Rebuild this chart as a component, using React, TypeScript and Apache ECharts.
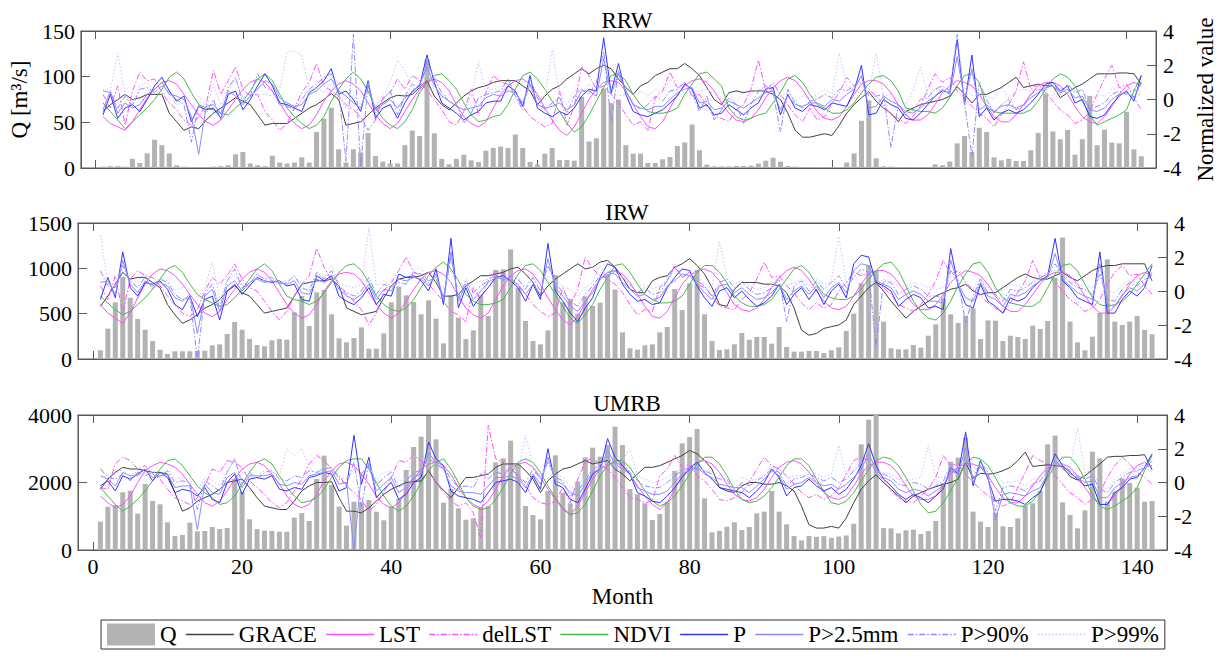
import { useEffect, useRef } from 'react';
import * as echarts from 'echarts';

const FONT = 'Liberation Serif';

const MONTHS: number[] = [];
for (let m = 1; m <= 142; m++) MONTHS.push(m);
const X_TICKS = [0, 20, 40, 60, 80, 100, 120, 140];

// ---------------- RRW ----------------
const Q_RRW = [
1.5,2,2,1.5,10,5.5,16,31,25,16,3,1.5,
1,1,1,1.5,2,3,15,17.5,5,3,2,13.5,
6,5,6,11.7,6,39.5,54,66,20.5,6,20.5,17,
38.4,13,7,5,5,25,41,35,119,38,10,4,
10,14.6,8.4,6.6,19,22,23.4,22,36.6,22,6.6,3.7,
15.7,22,8.8,8.8,8,78,29,32.6,87,71,75,25,
15.7,15.7,5.5,5.5,9.5,12,24,28,47.6,19.4,3.7,1.8,
1.8,1.8,2.2,2.2,2.6,4.8,8,11.3,7,2.2,1.5,1,
1,1,1,1,1,6,16,51.6,74,10.6,1.8,1.5,
1,1,1,1,1,4,3,7,27,35,17.6,44,
39.5,11.7,8.4,10,7.7,7.7,19.4,38.4,81.6,40,31.5,41.7,
14.6,31.5,79,25,42,27.8,27,61.5,20.5,12.8];

const GRACE_RRW = [
-0.7,-0.3,0.0,0.3,0.0,0.1,0.3,0.3,0.3,-0.8,-1.3,-1.8,
-1.6,-1.7,-1.2,-0.8,-0.5,-0.2,0.1,-0.1,-0.3,-0.9,-1.5,-1.4,
-1.4,-1.4,-1.1,-0.8,-0.5,-0.3,0.0,0.35,0.0,-1.5,-1.4,-1.3,
-0.9,-0.5,-0.2,0.1,0.25,0.2,0.3,0.7,1.1,0.2,-0.3,-0.6,
-0.2,0.2,0.5,0.7,0.8,1.0,1.1,1.1,1.1,0.8,0.5,-0.3,
0.2,0.6,0.8,1.2,1.5,1.8,1.5,1.8,2.0,1.8,1.2,0.7,
0.3,0.8,1.0,1.4,1.6,1.8,1.8,2.1,1.8,1.4,0.7,0.0,
-0.3,0.4,0.5,0.4,0.5,0.5,0.5,0.3,0.0,-0.8,-1.8,-2.2,
-2.2,-2.1,-2.0,-2.1,-1.5,-0.8,-0.3,0.1,0.45,-0.1,-0.5,-0.8,
-1.3,-0.7,-0.5,-0.3,-0.2,-0.1,0.0,0.2,0.75,0.3,-0.2,0.3,
0.3,0.5,0.7,1.0,1.3,0.7,0.8,0.9,0.8,0.8,0.1,0.4,
0.7,0.9,1.2,1.5,1.5,1.5,1.55,1.55,1.5,0.9];

const LST_RRW = [
-1.0,-1.4,-1.6,-1.8,-1.3,-0.6,0.1,0.6,1.0,1.1,0.9,0.3,
-0.3,-0.9,-1.3,-1.5,-1.2,-0.6,0.0,0.6,1.0,1.2,1.0,0.5,
-0.2,-0.9,-1.4,-1.7,-1.5,-0.9,-0.1,0.5,0.9,1.1,0.9,0.5,
-0.2,-0.9,-1.4,-1.7,-1.4,-0.7,0.0,0.6,1.0,1.2,1.0,0.5,
-0.3,-1.0,-1.4,-1.6,-1.3,-0.5,0.3,0.8,1.1,1.2,0.9,0.3,
-0.5,-1.2,-1.8,-2.1,-1.6,-0.8,0.0,0.6,1.0,1.1,1.0,0.5,
-0.3,-1.0,-1.6,-1.7,-1.3,-0.5,0.3,0.8,1.1,1.2,1.0,0.5,
-0.2,-0.8,-1.2,-1.3,-1.1,-0.6,0.1,0.7,1.1,1.3,1.1,0.6,
-0.1,-0.7,-1.1,-1.2,-1.0,-0.4,0.3,0.9,1.1,1.1,0.9,0.4,
-0.3,-0.9,-1.2,-1.2,-0.9,-0.3,0.4,0.8,1.1,1.0,0.8,0.3,
-0.4,-1.0,-1.3,-1.3,-0.9,-0.3,0.3,0.8,1.0,1.0,0.8,0.3,
-0.4,-1.0,-1.3,-1.4,-1.0,-0.4,0.3,0.8,1.0,0.8];

const DELLST_RRW = [
0.3,-0.5,0.8,-1.5,0.5,1.6,1.1,1.2,0.4,-0.2,-0.6,-1.2,
-1.5,-1.0,-0.3,1.7,0.3,1.1,1.9,0.6,0.2,0.3,-0.7,-1.2,
-1.8,-1.4,-0.5,0.4,1.0,2.1,0.8,0.5,0.2,-0.3,-0.6,-1.0,
-1.8,-1.2,0.1,0.4,1.2,0.6,1.4,1.1,0.5,0.0,-0.6,-1.3,
-1.5,-0.7,0.6,-0.8,0.4,1.4,1.0,0.9,0.2,-0.4,-1.0,-1.3,
-1.6,-1.4,0.5,-1.5,-0.4,1.9,1.4,0.6,0.8,0.3,-0.2,-0.9,
-1.5,-1.3,-1.8,0.1,0.5,1.6,0.7,1.0,0.2,0.3,-0.4,-1.0,
-1.1,-1.3,-0.6,-0.3,0.6,2.3,0.5,1.0,0.3,-0.3,-0.9,-1.3,
-0.5,-1.2,-1.0,-0.2,0.4,1.3,0.8,1.0,0.6,0.2,-0.3,-0.9,
-1.1,-1.4,-1.0,-0.4,0.6,1.5,1.0,1.3,0.5,0.1,-0.4,-0.8,
-1.1,-1.6,-0.9,-0.3,0.5,2.2,0.6,0.9,0.4,-0.1,-0.6,-0.9,
-1.4,-1.2,-0.7,0.3,1.2,2.0,0.7,0.9,0.1,-0.6];

const NDVI_RRW = [
-0.2,-0.7,-1.2,-1.7,-1.3,-0.9,-0.5,0.0,0.6,1.3,1.6,1.2,
0.4,-0.3,-0.5,-0.6,-0.8,-0.9,-0.5,-0.1,0.5,1.2,1.5,1.1,
0.3,-0.5,-1.0,-1.4,-1.7,-1.5,-1.0,-0.1,0.6,1.2,1.6,1.2,
0.5,-0.5,-1.1,-1.5,-1.7,-1.3,-0.6,0.4,1.0,1.4,1.5,1.1,
0.6,-0.2,-0.9,-1.3,-1.2,-1.0,-0.9,-0.3,0.6,1.4,1.6,1.2,
0.6,-0.1,-0.7,-1.4,-1.9,-1.6,-0.9,-0.1,0.7,1.4,1.5,1.1,
0.3,-0.3,-0.7,-0.8,-0.8,-0.7,-0.5,0.3,0.9,1.5,1.6,1.2,
0.8,-0.5,-1.0,-1.2,-1.1,-0.9,-0.8,-0.2,0.4,1.2,1.4,1.0,
0.3,-0.3,-0.5,-0.8,-0.8,-0.6,-0.2,0.4,0.9,1.3,1.4,1.1,
0.5,-0.5,-0.6,-0.7,-0.7,-0.8,-0.5,0.1,0.8,1.4,1.5,1.0,
-0.5,-0.7,-0.8,-0.8,-0.8,-0.8,-0.6,-0.1,0.6,1.2,1.5,1.3,
0.8,-0.1,-0.9,-1.5,-1.3,-1.1,-0.9,-0.6,0.5,1.4];

const P_RRW = [
-0.9,0.3,-1.1,-0.5,-0.3,-0.7,0.0,0.8,1.3,0.5,-0.1,0.2,
-1.3,-0.4,-0.6,-0.5,-1.1,0.3,0.5,-0.6,0.0,0.8,1.5,0.8,
-0.2,-0.3,-0.5,-0.7,0.4,0.7,1.1,1.8,0.3,0.5,0.0,-0.7,
1.1,-1.1,-0.5,-0.3,-1.1,-0.2,0.5,0.8,2.6,1.0,-0.2,-0.5,
-0.8,-1.2,-0.9,-0.7,-0.2,-0.1,-0.1,0.8,0.5,-0.4,1.4,-0.5,
-0.8,-1.0,-0.7,-0.9,-0.5,0.2,0.6,0.5,3.6,0.4,2.1,0.3,
-0.7,-0.9,-1.0,-0.8,-0.6,-0.2,0.2,0.9,0.6,-0.5,-0.3,-0.9,
-0.8,-0.3,-0.6,-0.9,-0.5,-0.2,0.6,0.7,-0.9,0.3,-0.5,-0.7,
-0.3,-0.4,-0.6,-0.2,-0.3,-0.4,0.5,2.0,-0.9,-0.8,0.0,-0.3,
-0.5,-1.1,-1.2,-0.8,-0.3,0.2,0.5,0.4,3.5,-0.3,2.6,-1.0,
-0.5,-1.2,-0.8,-0.6,-0.8,-0.6,-0.2,0.3,0.9,1.0,0.5,0.8,
-0.2,0.0,-1.0,-1.1,-0.9,-0.3,0.2,0.5,-0.1,1.4];

const P25_RRW = [
-0.6,0.5,-0.8,-0.2,-0.5,-0.3,0.3,0.6,1.0,0.3,0.2,0.0,
-1.0,-3.2,-0.4,-0.3,-0.8,0.5,0.2,-0.3,0.2,0.6,1.1,0.9,
0.1,-0.2,-0.4,-0.3,0.3,0.5,0.9,1.2,0.5,0.2,-0.2,-0.5,
0.8,-0.6,-0.3,0.0,-0.5,0.1,0.4,0.9,1.9,0.8,0.2,-0.1,
-0.4,-0.6,-0.5,-0.4,0.1,0.3,0.2,0.5,0.4,-0.2,0.9,-0.3,
-0.5,-0.4,-0.2,-0.6,-0.3,0.5,0.5,0.2,2.4,0.3,1.5,0.5,
-0.3,-0.5,-0.6,-0.4,-0.4,0.0,0.4,0.6,0.7,-0.2,-0.1,-0.6,
-0.5,-0.1,-0.3,-0.5,-0.2,0.1,0.4,0.5,-0.6,0.2,-0.3,-0.4,
-0.2,-0.2,-0.4,0.0,-0.1,0.3,0.6,1.4,-0.5,-0.4,0.2,-0.1,
-0.3,-0.7,-0.8,-0.5,-0.1,0.2,0.6,0.3,2.5,0.0,1.8,-0.6,
-0.3,-0.7,-0.4,-0.3,-0.5,-0.3,0.1,0.4,0.7,0.8,0.4,0.6,
0.1,0.2,-0.6,-0.7,-0.5,0.0,0.3,0.4,0.1,1.0];

const P90_RRW = [
0.5,0.4,-0.5,0.2,-0.4,0.6,0.7,0.4,0.8,0.4,0.0,-0.3,
-2.5,-0.3,-0.8,0.0,-1.2,0.7,1.3,-0.2,0.2,1.5,0.7,0.5,
-0.3,-0.4,-0.6,0.0,0.6,0.9,1.3,1.5,0.5,-3.6,3.8,-3.9,
1.0,-0.8,0.0,0.5,-0.9,0.2,0.9,0.6,2.2,1.2,0.4,-0.1,
-0.3,-1.4,-0.8,0.1,0.3,0.4,0.5,1.2,0.2,-0.6,1.2,0.1,
-0.6,-0.2,0.1,-0.8,0.2,0.6,0.3,1.0,2.8,-1.3,1.7,0.4,
-0.2,-0.6,-0.3,0.2,-0.1,0.5,0.6,1.0,0.4,-0.7,0.2,-1.2,
-0.6,0.1,-0.3,-1.4,-0.3,0.5,0.8,0.4,-1.9,0.6,-0.2,-0.5,
-0.1,0.0,0.3,0.1,0.6,0.5,0.8,1.3,0.2,0.2,0.3,-2.8,
-0.3,-0.9,-0.6,0.0,0.1,0.6,0.8,0.5,3.8,-0.2,-3.3,1.0,
0.0,-0.8,-0.3,0.0,-0.6,-0.4,0.3,0.6,0.5,1.0,0.3,0.9,
0.4,0.6,-0.6,-0.4,-0.2,0.3,0.5,0.3,0.6,0.2];

const P99_RRW = [
0.6,0.5,2.7,0.3,-0.3,0.8,1.0,0.5,0.3,0.4,-0.3,-0.2,
-0.5,0.2,-0.6,0.9,-0.3,0.5,1.2,0.1,0.4,0.3,0.3,0.2,
0.6,2.8,2.8,2.6,0.5,0.7,0.4,1.0,0.3,-0.5,0.3,-0.3,
0.4,-0.4,0.2,1.0,2.3,1.7,0.7,0.3,1.6,0.5,0.1,0.3,
0.1,-0.6,0.2,2.2,0.4,0.6,0.8,0.6,0.2,0.0,0.8,0.0,
0.2,2.9,0.3,-0.3,0.5,0.5,0.9,0.5,1.0,0.6,0.2,0.3,
0.0,0.5,0.2,0.6,0.4,1.2,0.7,0.4,0.2,0.5,0.6,0.3,
0.0,0.4,-0.2,0.5,0.3,0.6,0.5,0.9,0.2,0.4,-0.1,0.2,
0.1,0.3,0.6,0.3,2.7,0.8,0.6,0.3,0.4,2.7,0.2,0.3,
0.0,-0.3,0.5,1.9,0.3,0.6,0.5,0.4,0.4,0.7,0.2,0.3,
0.2,0.0,0.7,0.1,0.5,0.6,0.5,0.6,0.3,0.2,0.7,0.4,
0.6,0.5,0.0,0.3,0.2,0.6,0.7,0.5,0.8,0.4];

// ---------------- IRW ----------------
const Q_IRW = [
96,335,625,904,676,441,323,198,103,55,85,85,
85,92,92,150,162,276,408,323,220,154,140,206,
220,213,515,695,364,735,761,493,228,184,232,349,
114,114,283,625,798,702,629,493,647,445,173,700,
456,220,316,702,474,981,989,1209,787,419,198,162,
316,926,625,662,500,691,584,621,937,765,294,118,
103,151,162,294,353,772,540,834,981,493,198,99,
107,162,287,213,243,243,169,353,132,81,81,88,
88,66,96,129,309,500,834,1037,970,412,118,107,
107,154,125,257,382,669,493,397,478,559,220,426,
423,198,257,243,220,368,331,419,897,1338,412,184,
96,246,507,1099,412,375,412,474,320,272];

const GRACE_IRW = [
-0.9,-0.3,0.4,1.1,0.7,0.8,0.8,0.5,0.2,-0.8,-1.4,-1.9,
-1.7,-1.4,-1.0,-0.8,-0.5,0.0,0.3,-0.1,-0.3,-0.8,-1.3,-1.2,
-1.1,-1.0,-0.3,0.4,0.5,0.6,0.6,0.7,0.3,-1.0,-1.2,-1.4,
-1.3,-1.2,-0.4,0.3,0.7,0.8,0.8,0.9,1.1,0.5,-0.3,-0.3,
-0.2,0.3,0.6,0.9,0.9,1.0,1.1,1.3,1.4,1.0,0.5,-0.3,
0.3,0.7,1.0,1.3,1.6,1.3,1.4,1.7,1.8,1.4,0.8,0.1,
-0.1,-0.1,0.6,0.8,0.9,1.4,1.6,1.9,1.5,1.0,0.2,-0.8,
-0.9,0.1,0.5,0.5,0.5,0.4,0.4,0.3,-0.1,-1.0,-2.3,-2.6,
-2.5,-2.2,-2.1,-2.0,-1.7,-0.8,-0.3,0.2,0.5,0.0,-0.6,-1.1,
-1.6,-1.2,-0.9,-0.6,-0.3,-0.1,0.1,0.2,0.4,0.0,-0.2,-0.1,
-0.1,0.2,0.5,0.8,1.0,0.8,0.7,0.7,0.9,1.1,0.8,0.6,
0.9,1.2,1.4,1.5,1.5,1.6,1.6,1.6,1.6,0.6];

const LST_IRW = [
-0.8,-1.3,-1.6,-1.9,-1.3,-0.4,0.4,1.0,1.3,1.2,0.9,0.4,
-0.2,-0.8,-1.3,-1.5,-1.2,-0.5,0.1,0.7,1.1,1.3,1.1,0.6,
-0.1,-0.8,-1.3,-1.6,-1.4,-0.8,0.0,0.6,1.0,1.1,1.0,0.6,
-0.1,-0.8,-1.3,-1.6,-1.3,-0.6,0.1,0.7,1.1,1.2,1.0,0.5,
-0.3,-1.0,-1.4,-1.6,-1.3,-0.5,0.3,0.9,1.2,1.3,1.0,0.4,
-0.4,-1.1,-1.7,-2.0,-1.5,-0.7,0.1,0.7,1.1,1.2,1.0,0.5,
-0.2,-0.9,-1.5,-1.6,-1.2,-0.4,0.4,0.9,1.2,1.3,1.1,0.6,
-0.1,-0.8,-1.1,-1.2,-1.0,-0.5,0.2,0.8,1.2,1.4,1.2,0.7,
0.0,-0.6,-1.0,-1.1,-0.9,-0.3,0.4,1.0,1.2,1.2,1.0,0.5,
-0.2,-0.8,-1.1,-1.1,-0.8,-0.2,0.5,0.9,1.2,1.1,0.9,0.4,
-0.3,-0.9,-1.2,-1.2,-0.8,-0.2,0.4,0.9,1.1,1.1,0.9,0.4,
-0.3,-0.9,-1.3,-1.3,-0.9,-0.3,0.4,0.9,1.1,0.9];

const DELLST_IRW = [
0.3,-0.5,0.9,-1.3,0.7,1.2,0.9,0.8,0.3,-0.3,-0.8,-1.3,
-1.5,-1.1,0.0,0.8,0.4,0.9,1.6,0.7,0.2,0.0,-0.6,-1.2,
-1.7,-1.2,-0.3,0.4,0.9,2.5,1.4,0.6,0.3,-0.2,-0.6,-1.1,
-2.0,-1.3,0.0,0.5,1.2,2.0,1.1,0.9,0.4,-0.1,-0.6,-1.2,
-1.4,-1.8,0.2,-0.5,0.6,1.2,1.0,0.8,0.3,-0.2,-0.8,-1.2,
-1.5,-1.3,0.2,-0.8,0.1,2.0,1.3,0.9,0.7,0.4,-0.1,-0.8,
-1.4,-1.1,-1.2,0.2,0.6,1.5,0.8,1.1,0.4,0.2,-0.3,-0.9,
-1.0,-1.1,-0.5,-0.1,0.7,1.7,0.8,0.9,0.3,-0.1,-0.7,-1.1,
-0.7,-1.0,-0.8,0.0,0.5,1.1,0.9,1.0,0.6,0.2,-0.2,-0.8,
-1.0,-1.2,-0.8,-0.2,0.6,1.8,1.0,1.2,0.5,0.1,-0.3,-0.7,
-1.0,-1.3,-0.7,-0.1,0.6,1.8,0.8,1.0,0.5,0.0,-0.5,-0.8,
-1.2,-1.0,-0.5,0.4,1.1,1.5,0.9,1.0,0.3,-0.2];

const NDVI_IRW = [
-0.3,-0.7,-1.1,-1.4,-1.2,-0.8,-0.4,0.1,0.7,1.3,1.5,1.1,
0.4,-0.2,-0.5,-0.7,-0.9,-0.8,-0.4,0.1,0.7,1.3,1.6,1.2,
0.4,-0.3,-0.5,-0.6,-0.8,-0.6,-0.1,0.5,1.1,1.5,1.6,1.2,
0.5,-0.3,-0.8,-1.1,-1.2,-1.0,-0.5,0.2,0.9,1.4,1.7,1.3,
0.6,-0.2,-0.6,-0.8,-0.8,-0.7,-0.5,0.2,1.0,1.5,1.6,1.2,
0.5,-0.2,-0.9,-1.6,-1.9,-1.4,-0.8,0.1,0.8,1.5,1.6,1.1,
0.4,-0.2,-0.5,-0.7,-0.7,-0.6,-0.3,0.4,1.1,1.5,1.5,1.1,
0.5,-0.3,-0.7,-0.9,-0.9,-0.8,-0.5,0.1,0.7,1.3,1.5,1.1,
0.4,-0.2,-0.4,-0.5,-0.5,-0.3,0.1,0.7,1.2,1.6,1.7,1.2,
0.3,-0.6,-1.2,-1.6,-1.7,-1.3,-0.6,0.3,1.0,1.6,1.7,1.1,
0.2,-0.4,-0.7,-0.8,-0.9,-0.9,-0.6,0.2,1.0,1.5,1.6,1.2,
0.4,-0.4,-0.8,-0.9,-0.8,-0.6,-0.2,0.4,1.0,1.6];

const P_IRW = [
-0.5,0.8,-0.4,2.3,0.2,-0.3,0.5,0.4,0.6,0.1,-0.8,-1.1,
-0.3,-1.5,-0.5,-0.3,-1.7,0.0,0.4,-0.2,0.3,0.8,0.6,0.5,
0.6,0.3,0.4,-0.5,-0.6,0.9,0.6,0.9,-0.3,-0.6,-0.8,-0.4,
0.2,-0.8,-0.2,-0.3,1.0,0.8,0.9,0.6,0.0,1.3,-0.8,3.1,
-1.0,0.2,-0.9,-0.3,0.2,0.8,0.9,0.6,0.2,-0.6,0.4,-0.5,
2.8,0.0,-0.6,-1.3,-1.8,-1.0,-0.4,0.8,1.6,1.4,0.4,-0.2,
-0.6,-0.5,-0.8,-0.7,0.2,0.8,1.3,1.2,0.3,-0.4,-0.9,0.0,
0.2,-0.4,0.0,-0.5,-0.9,-0.7,-0.3,0.4,-0.8,-0.2,0.2,-0.5,
0.1,-0.8,0.0,0.4,-0.4,1.6,2.1,2.0,0.5,0.3,0.0,-0.9,
-0.5,-0.2,-0.4,-1.0,-0.9,-1.1,2.5,0.3,-0.8,-1.0,0.4,-0.6,
-0.9,-1.3,-0.4,-0.6,-0.4,0.2,0.6,0.9,3.1,0.6,0.2,-0.4,
-0.6,-0.8,2.3,-1.3,-1.3,-0.5,0.0,-0.3,0.2,1.5];

const P25_IRW = [
0.5,0.6,-0.2,1.8,0.4,-0.1,0.6,0.3,0.5,0.3,-0.4,-0.6,
-0.2,-2.5,-0.3,0.1,-1.2,0.3,0.6,0.0,0.5,0.7,0.5,0.6,
0.5,0.4,0.6,-0.1,-0.2,0.7,0.5,0.8,0.1,-0.3,-0.5,-0.2,
0.4,-0.5,0.1,0.0,0.7,0.6,0.8,0.7,0.3,1.0,-0.4,2.3,
-0.6,0.4,-0.5,0.0,0.5,0.8,0.7,0.6,0.4,-0.2,0.4,-0.2,
1.9,0.2,-0.3,-0.9,-1.2,-0.6,-0.1,0.7,1.1,1.0,0.5,0.1,
-0.3,-0.2,-0.5,-0.4,0.3,0.6,1.0,0.9,0.4,-0.1,-0.5,0.3,
0.4,-0.1,0.2,-0.2,-0.5,-0.4,-0.1,0.4,-0.5,0.0,0.3,-0.2,
0.3,-0.4,0.2,0.5,-0.1,1.2,1.6,1.5,0.6,0.4,0.2,-0.5,
-0.2,0.0,-0.2,-0.6,-0.6,-0.7,1.8,0.4,-0.4,-0.6,0.5,-0.3,
-0.5,-0.9,-0.2,-0.3,-0.1,0.3,0.6,0.8,2.2,0.7,0.3,-0.1,
-0.3,-0.5,1.6,-0.8,-0.9,-0.2,0.2,0.0,0.4,1.1];

const P90_IRW = [
1.2,0.3,0.2,1.5,0.6,0.2,0.8,0.1,0.7,0.5,-0.2,-0.5,
-0.4,-4.0,-0.2,0.4,-1.0,0.6,1.3,0.2,0.4,1.0,0.7,0.8,
0.4,0.5,0.9,0.2,0.0,1.1,0.7,1.2,0.3,-0.1,-0.3,0.0,
0.8,-0.2,0.4,0.2,0.5,0.4,1.1,1.0,0.6,0.8,-0.5,2.0,
-0.4,0.6,-0.1,0.3,0.6,1.0,0.6,0.9,0.7,0.1,0.8,0.0,
1.5,0.5,-0.1,-0.6,-0.9,-0.2,0.3,0.9,0.8,1.2,0.8,0.4,
-0.1,0.2,-0.2,-0.1,0.6,1.4,0.8,1.1,0.6,0.3,-0.3,0.5,
0.7,0.2,0.5,0.1,-0.2,-0.1,0.2,0.7,-1.8,0.3,0.6,0.0,
0.6,0.1,0.5,0.9,0.2,0.8,1.3,1.1,-3.3,0.6,0.5,-0.2,
0.1,0.3,0.1,-0.3,-0.3,-0.4,1.2,0.6,-1.9,-0.3,0.7,-0.1,
-0.2,-0.6,0.1,0.0,0.2,0.5,0.8,1.0,1.6,0.9,0.5,0.2,
0.1,-0.2,1.0,-0.5,-0.6,0.1,0.5,0.3,0.7,0.8];

const P99_IRW = [
3.3,0.4,0.3,0.9,0.5,0.6,1.0,0.2,0.8,0.6,0.0,0.2,
0.1,-0.4,0.2,1.7,-0.5,0.6,0.9,0.3,0.7,0.9,0.6,0.8,
0.5,0.6,0.8,0.5,0.2,0.9,0.8,1.5,0.4,0.3,0.2,0.4,
3.7,0.3,0.6,0.3,0.5,0.4,1.2,1.4,0.5,0.6,0.2,1.2,
0.2,0.7,0.3,0.6,0.7,1.1,0.5,1.0,0.8,0.3,0.9,0.2,
0.9,0.6,0.3,0.1,-0.3,0.2,0.5,1.5,0.7,1.0,0.8,0.5,
0.3,0.4,0.1,0.3,0.7,1.6,0.9,1.2,1.0,0.4,0.2,2.9,
0.8,0.4,0.6,0.3,0.1,0.2,0.4,0.8,0.3,0.5,0.7,0.3,
0.7,0.4,0.6,3.2,0.5,0.7,1.0,0.9,0.4,0.7,0.6,0.3,
0.3,0.5,0.4,0.2,0.1,0.2,0.9,0.7,0.3,0.1,0.8,0.2,
0.1,0.0,0.4,0.3,0.4,0.6,0.9,1.1,1.2,1.0,0.6,0.4,
0.3,0.2,0.8,0.0,-0.1,0.4,0.6,0.5,0.9,0.7];

// ---------------- UMRB ----------------
const Q_UMRB = [
840,1284,1333,1709,1758,1077,1956,1452,1353,820,415,444,
810,553,563,681,622,652,2104,1728,909,622,573,563,
543,543,958,1096,859,2104,2795,1926,1284,721,1432,1412,
1482,1136,879,1284,1511,2370,3052,3358,3970,3279,1402,1807,
1235,899,938,1254,1300,2598,2716,3240,2568,1304,1037,909,
1748,2805,1699,1383,2025,2746,3032,2766,3111,3654,3111,1807,
1649,1383,889,1067,1432,2341,3161,3348,3585,1531,523,563,
691,820,593,681,1086,1136,1748,1136,760,415,286,415,
390,410,360,400,430,780,3130,3860,4000,650,642,494,
583,602,474,563,859,1975,2617,2736,3328,1136,840,681,
1106,701,681,938,1314,1383,1748,3131,3388,1412,1037,642,
1175,2914,2716,1432,1728,2124,1985,1847,1432,1450];

const GRACE_UMRB = [
-0.4,0.2,0.6,0.9,0.8,0.8,0.7,0.6,0.6,0.5,-0.6,-1.7,
-1.5,-1.1,-0.9,-0.7,-0.4,0.0,0.1,0.2,-0.3,-0.9,-1.4,-1.5,
-1.6,-1.6,-1.1,-0.5,-0.2,0.0,0.0,0.05,-0.9,-1.7,-1.7,-1.8,
-1.5,-1.1,-0.7,-0.4,-0.2,0.0,0.05,0.1,0.7,0.0,-0.45,-0.9,
-0.3,0.3,0.3,0.4,0.5,0.9,1.1,1.1,1.1,0.7,0.2,-0.6,
0.1,0.5,0.8,0.9,1.1,1.3,1.1,1.2,1.3,0.8,0.5,0.1,
0.5,0.9,0.9,1.0,1.2,1.4,1.6,1.9,1.7,1.3,0.8,-0.3,
-0.5,-0.6,-0.2,0.0,0.0,-0.1,-0.1,0.0,-0.2,-0.5,-1.4,-2.5,
-2.7,-2.7,-2.6,-2.7,-2.1,-1.2,-0.4,0.1,0.45,0.0,-0.4,-0.8,
-1.2,-0.8,-0.6,-0.4,-0.25,-0.1,0.0,0.2,1.2,0.25,0.55,0.5,
0.55,0.7,0.9,1.3,1.8,0.95,1.0,1.05,1.0,0.95,0.35,0.15,
0.4,0.75,1.1,1.5,1.55,1.55,1.6,1.6,1.65,0.75];

const LST_UMRB = [
-0.8,-1.2,-1.5,-1.3,-0.8,0.0,0.7,1.0,1.2,1.1,0.9,0.5,
-0.1,-0.7,-1.2,-1.4,-1.1,-0.5,0.2,0.8,1.1,1.2,1.0,0.5,
-0.1,-0.8,-1.3,-1.5,-1.3,-0.7,0.1,0.7,1.1,1.2,1.0,0.5,
-0.1,-0.8,-1.3,-1.5,-1.2,-0.5,0.2,0.8,1.1,1.2,1.0,0.5,
-0.3,-0.9,-1.3,-1.5,-1.1,-0.4,0.4,0.9,1.1,1.2,0.9,0.3,
-0.4,-1.0,-1.6,-1.9,-1.4,-0.6,0.2,0.8,1.1,1.2,1.0,0.5,
-0.2,-0.8,-1.3,-1.6,-1.2,-0.4,0.4,0.9,1.2,1.3,1.1,0.6,
-0.1,-0.7,-1.0,-1.1,-0.9,-0.4,0.3,0.9,1.2,1.3,1.1,0.6,
0.0,-0.6,-0.9,-1.0,-0.8,-0.2,0.5,1.0,1.2,1.2,1.0,0.5,
-0.2,-0.8,-1.0,-1.0,-0.8,-0.2,0.5,0.9,1.1,1.1,0.9,0.4,
-0.3,-0.9,-1.2,-1.2,-0.8,-0.2,0.4,0.9,1.1,1.1,0.9,0.4,
-0.3,-0.9,-1.3,-1.3,-0.8,-0.2,0.5,1.0,1.2,0.9];

const DELLST_UMRB = [
-0.3,-0.4,1.1,1.5,1.3,0.8,1.0,0.5,0.2,-0.4,-0.9,-1.1,
-1.3,-0.9,-0.2,0.8,0.6,1.3,1.2,0.9,0.1,-0.3,-0.7,-1.2,
-1.5,-1.2,-0.5,0.2,1.1,1.6,1.3,0.8,0.4,-0.2,-0.6,-1.0,
-1.7,-1.3,-0.6,0.3,1.3,1.2,1.6,1.3,0.7,0.0,-0.6,-1.1,
-1.4,-1.2,-1.8,-3.3,3.4,1.4,1.2,0.8,0.4,-0.2,-0.9,-1.2,
-1.3,-1.1,-0.3,-1.2,0.2,1.2,1.5,1.0,0.8,0.3,-0.3,-0.9,
-1.0,-1.2,-1.1,0.4,0.8,1.6,0.9,1.1,0.4,0.1,-0.4,-1.0,
-1.1,-0.9,-0.6,0.0,0.8,1.5,1.0,0.8,0.4,-0.1,-0.6,-0.9,
-0.7,-1.0,-0.8,-0.3,0.5,1.3,1.5,1.3,0.7,0.1,-0.5,-0.9,
-1.1,-1.2,-0.8,-0.4,0.3,1.6,1.0,1.1,0.5,0.0,-0.4,-0.8,
-1.1,-1.4,-1.2,-0.3,0.6,1.6,1.3,1.1,0.4,-0.1,-0.6,-0.9,
-1.3,-1.0,-0.6,0.3,1.0,1.5,1.1,0.6,0.3,-0.1];

const NDVI_UMRB = [
-0.3,-0.8,-1.3,-1.7,-1.4,-1.0,-0.5,0.1,0.8,1.3,1.4,1.0,
0.4,-0.2,-0.6,-0.9,-1.3,-1.2,-0.8,-0.1,0.6,1.2,1.4,1.1,
0.4,-0.3,-0.8,-1.2,-1.1,-0.9,-0.4,0.3,0.9,1.3,1.4,1.4,
0.8,0.0,-0.8,-1.4,-1.7,-1.4,-0.8,0.0,0.7,1.2,1.4,0.8,
0.0,-0.9,-1.4,-1.6,-1.5,-1.0,-0.3,0.5,1.2,1.4,1.2,0.6,
-0.2,-0.9,-1.5,-1.9,-1.8,-1.3,-0.5,0.4,1.0,1.3,1.3,0.9,
0.2,-0.5,-1.1,-1.4,-1.2,-0.8,-0.2,0.5,1.1,1.5,1.5,1.1,
0.4,-0.4,-1.0,-1.2,-1.1,-0.8,-0.3,0.3,1.0,1.4,1.4,1.0,
0.2,-0.5,-1.2,-1.3,-1.1,-0.6,0.1,0.8,1.3,1.5,1.4,1.0,
0.3,-0.5,-1.3,-1.8,-1.7,-1.2,-0.5,0.3,1.1,1.5,1.4,1.0,
0.3,-0.5,-1.2,-1.4,-1.4,-1.1,-0.5,0.3,1.0,1.5,1.5,1.0,
0.2,-0.7,-1.4,-1.6,-1.4,-1.1,-0.8,-0.3,0.7,1.6];

const P_UMRB = [
-0.2,0.1,-0.5,0.4,0.2,0.5,0.8,0.1,0.6,0.3,-0.6,-0.4,
-0.5,-0.8,-0.3,-1.0,-1.2,0.0,0.5,-0.7,0.2,0.3,0.2,0.4,
-0.4,-0.5,-0.3,-0.4,0.3,0.4,0.6,0.5,-0.5,-0.3,2.8,-0.1,
1.5,-0.9,-0.4,0.0,-1.0,-0.7,0.0,0.3,2.4,1.4,1.0,-0.5,
-0.8,-0.9,-1.0,-1.2,-0.6,0.0,0.1,0.2,0.0,-0.6,0.4,-0.4,
2.0,-0.1,-0.3,-1.0,-1.2,-0.4,0.5,0.8,2.6,1.5,1.0,0.5,
-0.6,-0.8,-1.1,-1.2,-0.8,-0.3,0.3,0.8,1.2,0.6,0.2,-0.3,
-0.4,-0.5,-0.6,-0.9,-0.5,0.0,0.8,0.3,-0.8,-0.3,-0.2,0.2,
-0.2,-0.5,-0.3,-0.7,-0.4,0.2,1.0,2.3,1.0,0.2,-0.2,-0.7,
-1.0,-0.7,-0.9,-1.2,-0.8,-0.4,0.9,0.5,3.0,-0.2,1.3,0.2,
-1.1,-1.0,-1.0,-1.1,-1.3,-0.9,-0.6,0.5,1.7,1.0,0.6,0.2,
-0.2,-0.1,-1.3,-1.3,-0.6,-0.3,0.2,0.3,0.9,1.7];

const P25_UMRB = [
0.4,0.2,-0.2,0.6,0.4,0.4,0.8,0.3,0.4,0.5,-0.3,-0.2,
-0.2,-2.8,-0.1,-0.6,-0.7,0.3,0.6,-0.3,0.4,0.4,0.4,0.5,
-0.1,-0.2,0.0,-0.1,0.4,0.5,0.6,0.7,-0.1,0.0,-4.0,0.5,
1.0,-0.5,-0.1,0.3,-0.6,-0.3,0.3,0.5,1.8,1.1,0.8,-0.2,
-0.5,-0.6,-0.6,-0.7,-0.2,0.3,0.3,0.4,0.2,-0.3,0.5,-0.1,
1.5,0.1,-0.1,-0.6,-0.8,-0.1,0.6,0.8,1.9,1.1,0.8,0.5,
-0.3,-0.5,-0.7,-0.7,-0.5,0.0,0.5,0.7,0.9,0.5,0.3,-0.1,
-0.2,-0.3,-0.3,-0.6,-0.2,0.2,0.7,0.4,-0.4,-0.1,0.0,0.3,
0.0,-0.2,-0.1,-0.4,-0.1,0.3,0.8,1.7,0.8,0.3,0.1,-0.4,
-0.6,-0.4,-0.5,-0.8,-0.5,-0.2,0.7,0.5,2.1,0.0,1.0,0.3,
-2.2,-0.7,-0.6,-0.7,-0.8,-0.5,-0.3,0.5,1.3,0.8,0.5,0.3,
0.0,0.1,-0.9,-0.9,-0.3,0.0,0.3,0.4,0.8,1.3];

const P90_UMRB = [
0.8,0.3,0.2,0.5,0.1,0.6,0.4,0.6,0.3,0.7,0.0,0.1,
0.0,-1.6,0.1,-0.2,-0.5,0.6,1.4,-0.1,0.6,0.2,0.6,0.7,
0.2,0.1,0.4,0.3,0.7,0.6,0.8,0.9,0.2,-0.1,1.2,-1.5,
1.2,-0.2,0.3,0.6,-0.3,0.1,0.6,0.7,1.5,1.0,0.9,0.2,
-0.3,-0.2,-0.3,0.5,0.2,0.6,0.5,0.9,0.4,0.0,0.8,0.2,
1.2,0.3,0.1,-0.8,-0.5,0.1,0.8,1.0,1.6,0.8,1.2,0.6,
0.1,-0.2,-0.3,-0.3,0.0,0.4,0.7,0.9,0.8,0.7,0.5,0.2,
0.2,-0.6,0.0,-0.2,0.1,0.4,0.8,0.6,-0.2,0.2,0.3,0.5,
0.3,0.1,0.3,0.0,0.2,0.7,1.1,1.4,0.6,0.5,0.3,-0.1,
-0.2,0.0,-0.1,-0.4,-0.2,0.1,0.9,0.7,1.5,0.3,1.2,0.6,
-1.7,-0.3,-0.2,-0.3,-0.5,-0.1,0.1,0.7,1.0,1.0,0.7,0.4,
0.2,0.4,-0.4,-0.6,0.0,0.3,0.6,0.7,0.9,1.0];

const P99_UMRB = [
0.9,0.4,0.5,0.8,0.3,0.7,0.5,0.6,0.5,0.8,0.2,0.3,
0.2,-0.5,0.3,0.1,-0.2,0.7,1.5,0.1,0.5,0.4,0.7,0.6,
0.4,2.0,1.6,2.0,0.9,0.5,1.0,0.7,0.3,0.2,0.8,0.6,
0.9,0.2,0.6,0.7,0.1,0.2,1.6,1.4,1.2,1.1,0.9,0.4,
0.2,0.2,0.0,0.6,0.5,0.7,0.5,1.0,0.6,2.8,1.0,0.4,
1.0,0.5,0.3,-0.3,-0.2,0.3,0.8,1.1,1.2,0.9,1.3,2.0,
0.4,0.2,0.0,0.1,0.3,0.6,0.9,1.1,0.9,0.7,0.6,0.4,
0.4,0.0,0.3,0.1,0.2,0.6,0.9,0.8,0.3,0.4,0.4,0.7,
0.5,0.3,0.5,2.2,0.4,0.8,1.2,1.3,0.7,0.6,0.5,0.2,
0.1,0.2,0.3,2.2,0.3,0.3,1.0,0.9,1.2,0.6,1.1,0.8,
0.7,0.0,0.0,0.1,-0.2,0.2,0.3,0.9,1.1,1.1,0.9,3.2,
0.6,0.7,-0.2,-0.4,0.2,0.5,0.8,0.9,1.0,0.6];

// ---------------- styles ----------------
const DASHDOT = [6, 2, 1.5, 2];
const LINE_DEFS: any[] = [
  { name: 'GRACE', color: '#404040', type: 'solid' },
  { name: 'LST', color: '#ff4dff', type: 'solid' },
  { name: 'delLST', color: '#ff4dff', type: DASHDOT },
  { name: 'NDVI', color: '#47b947', type: 'solid' },
  { name: 'P', color: '#3333ff', type: 'solid' },
  { name: 'P>2.5mm', color: '#8c8cff', type: 'solid' },
  { name: 'P>90%', color: '#8c8cff', type: DASHDOT },
  { name: 'P>99%', color: '#c4c4ff', type: [1.5, 2] },
];

const PANELS = [
  { title: 'RRW', q: Q_RRW, qMax: 150, qInt: 50, top: 31, height: 137, titleTop: 4,
    lines: [GRACE_RRW, LST_RRW, DELLST_RRW, NDVI_RRW, P_RRW, P25_RRW, P90_RRW, P99_RRW] },
  { title: 'IRW', q: Q_IRW, qMax: 1500, qInt: 500, top: 223, height: 136, titleTop: 196,
    lines: [GRACE_IRW, LST_IRW, DELLST_IRW, NDVI_IRW, P_IRW, P25_IRW, P90_IRW, P99_IRW] },
  { title: 'UMRB', q: Q_UMRB, qMax: 4000, qInt: 2000, top: 415, height: 135, titleTop: 387,
    lines: [GRACE_UMRB, LST_UMRB, DELLST_UMRB, NDVI_UMRB, P_UMRB, P25_UMRB, P90_UMRB, P99_UMRB] },
];

const AX = '#5a5a5a';

function buildOption() {
  const bad: string[] = [];
  PANELS.forEach((p) => {
    if (p.q.length !== 142) bad.push(p.title + ' Q ' + p.q.length);
    p.lines.forEach((l, k) => { if (l.length !== 142) bad.push(p.title + ' ' + LINE_DEFS[k].name + ' ' + l.length); });
  });
  if (bad.length) throw new Error('Bad lengths: ' + bad.join('; '));

  const txt = { fontFamily: FONT, color: '#000' };
  const grid: any[] = [];
  const xAxis: any[] = [];
  const yAxis: any[] = [];
  const series: any[] = [];
  const title: any[] = [];
  const plain = (v: number) => String(v);

  PANELS.forEach((p, i) => {
    grid.push({ left: 78, right: 58, top: p.top, height: p.height, show: true,
      borderColor: AX, borderWidth: 1, backgroundColor: 'transparent' });
    title.push({ text: p.title, left: 622, top: p.titleTop, textAlign: 'center',
      textStyle: { ...txt, fontSize: 23, fontWeight: 'normal' } });
    xAxis.push({
      type: 'value', gridIndex: i, position: 'bottom', min: -2, max: 144,
      axisLine: { show: true, onZero: false, lineStyle: { color: AX, width: 1 } },
      axisTick: { show: true, inside: true, length: 8, customValues: X_TICKS, lineStyle: { color: AX } },
      axisLabel: { show: i === 2, customValues: X_TICKS, fontSize: 22, margin: 5, formatter: plain, ...txt },
      splitLine: { show: false },
      name: i === 2 ? 'Month' : '', nameLocation: 'middle', nameGap: 35,
      nameTextStyle: { ...txt, fontSize: 23 },
    });
    xAxis.push({
      type: 'value', gridIndex: i, position: 'top', min: -2, max: 144,
      axisLine: { show: true, onZero: false, lineStyle: { color: AX, width: 1 } },
      axisTick: { show: true, inside: true, length: 8, customValues: X_TICKS, lineStyle: { color: AX } },
      axisLabel: { show: false }, splitLine: { show: false },
    });
    yAxis.push({
      type: 'value', gridIndex: i, position: 'left', min: 0, max: p.qMax, interval: p.qInt,
      axisLine: { show: true, onZero: false, lineStyle: { color: AX, width: 1 } },
      axisTick: { show: true, inside: true, length: 9, lineStyle: { color: AX } },
      axisLabel: { fontSize: 22, margin: 6, formatter: plain, ...txt },
      splitLine: { show: false },
      name: i === 0 ? 'Q [m³/s]' : '', nameLocation: 'middle', nameRotate: 90, nameGap: 34,
      nameTextStyle: { ...txt, fontSize: 23 },
    });
    yAxis.push({
      type: 'value', gridIndex: i, position: 'right', min: -4, max: 4, interval: 2,
      axisLine: { show: true, onZero: false, lineStyle: { color: AX, width: 1 } },
      axisTick: { show: true, inside: true, length: 9, lineStyle: { color: AX } },
      axisLabel: { fontSize: 22, margin: 7, formatter: plain, ...txt },
      splitLine: { show: false },
      name: i === 0 ? 'Normalized value' : '', nameLocation: 'middle', nameRotate: 90, nameGap: 38,
      nameTextStyle: { ...txt, fontSize: 23 },
    });

    series.push({
      type: 'bar', name: 'Q', xAxisIndex: 2 * i, yAxisIndex: 2 * i,
      data: MONTHS.map((m, j) => [m, p.q[j]]),
      barWidth: 5, itemStyle: { color: '#b3b3b3' }, z: 1, silent: true,
    });
    p.lines.forEach((arr, k) => {
      const d = LINE_DEFS[k];
      series.push({
        type: 'line', name: d.name, xAxisIndex: 2 * i, yAxisIndex: 2 * i + 1,
        data: MONTHS.map((m, j) => [m, arr[j]]),
        symbol: 'none', showSymbol: false, silent: true, z: 2 + k,
        lineStyle: { color: d.color, width: 1, type: d.type },
        itemStyle: { color: d.color, opacity: 0 },
      });
    });
  });

  return {
    animation: false,
    backgroundColor: '#ffffff',
    textStyle: { fontFamily: FONT },
    title,
    grid, xAxis, yAxis, series,
    legend: {
      left: 101, top: 620, padding: [3, 6, 3, 6], itemWidth: 48, itemHeight: 22, itemGap: 8.5,
      borderColor: '#333', borderWidth: 1, selectedMode: false,
      textStyle: { ...txt, fontSize: 23 },
      lineStyle: { width: 1.5 },
      data: [{ name: 'Q', icon: 'rect', itemStyle: { opacity: 1, color: '#b3b3b3' } },
        'GRACE', 'LST', 'delLST', 'NDVI', 'P', 'P>2.5mm', 'P>90%', 'P>99%'],
    },
  };
}

export default function App() {
  const ref = useRef<HTMLDivElement>(null);
  useEffect(() => {
    if (!ref.current) return;
    const chart = echarts.init(ref.current, undefined, { renderer: 'svg' });
    chart.setOption(buildOption() as any);
    return () => chart.dispose();
  }, []);
  return (
    <div ref={ref}
      style={{ position: 'absolute', left: 0, top: 0, width: 1225, height: 656, background: '#fff' }} />
  );
}
